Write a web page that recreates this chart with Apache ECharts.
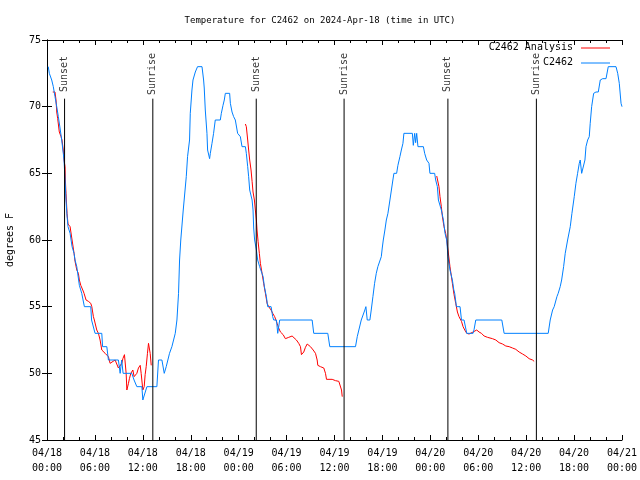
<!DOCTYPE html>
<html>
<head>
<meta charset="utf-8">
<script src="https://cdn.jsdelivr.net/npm/echarts@6/dist/echarts.min.js"></script>
<style>html,body{margin:0;padding:0;background:#fff}#c{width:640px;height:480px}</style>
</head>
<body>
<div id="c"></div>
<script>
// hours since 2024-04-18 00:00 UTC
var tickLabels = ["04/18\n00:00","04/18\n06:00","04/18\n12:00","04/18\n18:00","04/19\n00:00","04/19\n06:00","04/19\n12:00","04/19\n18:00","04/20\n00:00","04/20\n06:00","04/20\n12:00","04/20\n18:00","04/21\n00:00"];

var obsHours = [0.16,0.29,0.46,0.59,0.79,1.0,1.22,1.42,1.63,1.84,2.04,2.13,2.26,2.38,2.51,2.63,2.89,3.14,3.39,3.51,3.73,4.05,4.35,4.68,5.48,5.58,6.02,6.86,6.96,7.49,7.69,8.94,9.16,9.35,9.53,10.62,10.9,11.25,11.88,12.0,12.25,12.51,13.76,13.96,14.39,14.68,14.93,15.34,15.64,16.06,16.27,16.47,16.6,16.75,17.06,17.44,17.6,17.85,17.94,18.15,18.28,18.57,18.85,19.41,19.61,19.69,19.82,20.03,20.11,20.36,20.45,20.66,20.86,21.07,21.7,21.83,22.04,22.2,22.33,22.87,22.96,23.17,23.37,23.58,23.87,24.21,24.42,24.84,24.96,25.13,25.25,25.38,25.68,25.8,25.88,26.0,26.22,26.38,26.63,27.06,27.22,27.47,27.63,28.06,28.26,28.39,28.73,28.89,29.14,33.2,33.4,35.16,35.41,38.63,38.85,39.05,39.35,39.55,39.8,39.93,40.1,40.43,40.6,40.81,41.02,41.23,41.43,41.68,41.86,41.98,42.11,42.31,42.49,42.69,42.94,43.11,43.31,43.44,43.78,43.94,44.19,44.37,44.57,44.69,45.75,45.87,46.04,46.16,46.29,46.45,47.13,47.29,47.54,47.83,47.95,48.54,48.67,48.88,49.01,49.21,49.38,49.64,49.84,50.05,50.21,50.46,50.76,50.93,51.05,51.27,51.72,51.9,52.22,52.56,53.35,53.48,53.69,56.95,57.24,62.76,63.01,63.31,63.51,63.85,64.01,64.26,64.44,64.69,64.89,65.19,65.52,65.73,66.02,66.23,66.44,66.65,66.77,66.95,67.2,67.36,67.49,67.7,67.9,68.02,68.2,68.45,68.74,69.03,69.28,69.58,70.0,70.28,71.25,71.46,71.66,71.88,72.0];
var obsTemps = [73,72.5,72.4,72,71.5,70.75,70,69.25,68.4,67.5,66.5,66,64.5,63,61.8,61,60.5,59.5,59,58.5,58,56.6,56,55,55,54,53,53,52,52,51,51,50,51,50,50,49.5,49,49,48,48,49,49,51,51,50,50.5,51.5,52,53,54,56,58.5,60,62.25,64.75,66.25,67.5,69.5,71.25,72,72.6,73,73,72,71.4,69.75,68,66.75,66.1,66.5,67.25,68,69,69,69.5,70.1,70.5,71,71,70.25,69.6,69.25,69,68,67.75,67,67,66.5,65.5,64.75,63.75,63,62.25,60.9,60,59.25,58.5,58,57.25,56.5,55.75,55,55,54.25,54,54,53,54,54,53,53,52,52,52.75,53.25,54,54,54.75,55,54,54,54.75,55.75,56.75,57.5,58,58.1,58.75,59.4,60,60.75,61.5,62,63,63,64.5,65,65,65.6,66.25,66.75,67.25,68,68,67.1,68,67.3,68,67,67,66.5,66,65.75,65,65,64.5,64,63,63,62.25,61.5,60.5,60,58.75,57.75,57,56.3,56,55,55,54,54,53,53,53.3,54,54,53,53,54,54.75,55,55.75,56,56.5,57,58,59,60,61,62,63.25,64.25,65,65.75,66,65,65,66,67,67.5,67.75,68.75,70,71,71.1,71.1,72,72.1,72.1,73,73,72.5,71.75,70.25,70];

var anaHours1 = [0.72,1.0,1.13,1.22,1.34,1.54,1.76,1.88,2.04,2.13,2.26,2.3,2.38,2.51,2.63,2.89,3.14,3.39,3.51,3.73,3.93,4.05,4.23,4.48,4.64,4.89,5.18,5.48,5.61,5.81,5.93,6.23,6.44,6.65,6.86,7.28,7.49,7.69,7.9,8.12,8.53,8.72,8.94,9.16,9.37,9.5,9.7,9.91,10.0,10.2,10.32,10.5,10.75,10.91,11.25,11.45,11.67,11.79,12.0,12.17,12.29,12.42,12.58,12.71,12.92,13.05];
var anaTemps1 = [71.1,71.1,70.5,69.6,69.1,68.1,67.75,67.5,66.75,66,65.5,64.5,63.5,62,61.2,61,60,59,58.4,57.75,57.5,57,56.6,56.25,56,55.5,55.4,55.25,55,54.25,54,53.25,53,52.5,51.75,51.5,51.4,51.25,50.75,50.75,51,51,50.4,50.25,50.75,51.1,51.4,50,48.75,49.25,49.6,50,50.25,49.75,50,50.4,50.6,50,48.75,49,49.9,50.5,51.5,52.25,51.5,50.6];
var anaHours2 = [24.84,24.96,25.13,25.25,25.38,25.55,25.68,25.8,25.97,26.09,26.22,26.3,26.43,26.59,26.72,26.93,27.13,27.35,27.56,27.76,28.06,28.26,28.51,28.81,29.01,29.23,29.57,29.85,30.27,30.69,30.9,31.23,31.52,31.74,31.86,31.95,32.15,32.36,32.58,32.78,32.99,33.33,33.62,33.83,33.91,34.24,34.66,34.87,35.0,35.71,36.13,36.54,36.75,36.88,36.97];
var anaTemps2 = [68.7,68.5,67.5,66.75,66,65.25,64.4,63.6,63,62.25,61.5,60.75,59.9,59,58.25,57.5,56.75,56,55.25,55,54.75,54.5,54.25,53.75,53.4,53.1,52.9,52.6,52.7,52.8,52.75,52.5,52.25,52,51.4,51.25,51.6,51.95,52.2,52.2,52,51.75,51.5,51,50.6,50.5,50.4,50,49.55,49.55,49.45,49.4,49.3,48.75,48.25];
var anaHours3 = [48.8,48.98,49.08,49.21,49.38,49.51,49.71,49.92,50.05,50.21,50.46,50.76,50.97,51.18,51.39,51.59,51.9,52.1,52.31,52.56,52.85,53.06,53.35,53.6,53.81,54.1,54.4,54.73,55.16,55.78,56.2,56.61,57.04,57.45,57.87,58.29,58.7,59.12,59.55,59.96,60.37,60.8,61.0];
var anaTemps3 = [64.8,64.7,64,63.25,62.5,61.75,61,60.5,60,59.25,58,56.75,55.9,55.25,54.6,54.25,53.9,53.5,53.25,53,52.95,53,53.1,53.25,53.25,53.1,53,52.8,52.7,52.6,52.5,52.3,52.2,52.05,52,51.9,51.8,51.6,51.45,51.3,51.1,51,50.9];

var sunNames = ["Sunset","Sunrise","Sunset","Sunrise","Sunset","Sunrise"];
var sunHours = [2.2,13.25,26.2,37.2,50.2,61.28];

var yMin = 45, yMax = 75, yStep = 5;
var xMin = 0, xMax = 72, xStep = 6;

function pairs(h, t) { return h.map(function (v, i) { return [v, t[i]]; }); }
var anaData = pairs(anaHours1, anaTemps1).concat([null], pairs(anaHours2, anaTemps2), [null], pairs(anaHours3, anaTemps3));
var obsData = pairs(obsHours, obsTemps);
var sunLineTop = 70.6, sunLabelY = 72.45;
var sunLineData = [];
sunHours.forEach(function (h) { sunLineData.push([h, sunLineTop], [h, yMin], null); });
var sunLabelData = sunHours.map(function (h, i) { return { value: [h, sunLabelY], name: sunNames[i] }; });

var FONT = "DejaVu Sans Mono";
var chart = echarts.init(document.getElementById('c'), null, { renderer: 'canvas' });
var axisCommon = {
  axisLine: { lineStyle: { color: '#000', width: 1 } },
  splitLine: { show: false }
};
chart.setOption({
  animation: false,
  backgroundColor: '#fff',
  title: {
    text: 'Temperature for C2462 on 2024-Apr-18 (time in UTC)',
    left: 'center', top: 11,
    textStyle: { fontFamily: FONT, fontSize: 9, fontWeight: 'normal', color: '#000' }
  },
  grid: { left: 47, top: 40, width: 575, height: 400, containLabel: false, outerBoundsMode: 'none' },
  xAxis: [
    Object.assign({}, axisCommon, {
      type: 'value', min: xMin, max: xMax, interval: xStep, position: 'bottom',
      axisTick: { inside: true, length: 5, lineStyle: { color: '#000' } },
      minorTick: { show: true, splitNumber: 3, length: 3, lineStyle: { color: '#000' } },
      axisLabel: {
        fontFamily: FONT, fontSize: 10, color: '#000', lineHeight: 15, margin: 6,
        formatter: function (v) { return tickLabels[Math.round(v / xStep)] || ''; }
      }
    }),
    Object.assign({}, axisCommon, {
      type: 'value', min: xMin, max: xMax, interval: xStep, position: 'top',
      axisTick: { inside: true, length: 5, lineStyle: { color: '#000' } },
      minorTick: { show: true, splitNumber: 3, length: 3, lineStyle: { color: '#000' } },
      axisLabel: { show: false }
    })
  ],
  yAxis: [
    Object.assign({}, axisCommon, {
      type: 'value', min: yMin, max: yMax, interval: yStep, position: 'left',
      name: 'degrees F', nameLocation: 'middle', nameGap: 32, nameRotate: 90,
      nameTextStyle: { fontFamily: FONT, fontSize: 10, color: '#000' },
      axisTick: { inside: true, length: 5, lineStyle: { color: '#000' } },
      axisLabel: { fontFamily: FONT, fontSize: 10, color: '#000', margin: 6 }
    }),
    Object.assign({}, axisCommon, {
      type: 'value', min: yMin, max: yMax, interval: yStep, position: 'right',
      axisTick: { inside: true, length: 5, lineStyle: { color: '#000' } },
      axisLabel: { show: false }
    })
  ],
  series: [
    { name: 'C2462 Analysis', type: 'line', data: anaData, showSymbol: false, symbol: 'none',
      connectNulls: false, lineStyle: { color: '#ff0000', width: 1 }, itemStyle: { color: '#ff0000' } },
    { name: 'C2462', type: 'line', data: obsData, showSymbol: false, symbol: 'none',
      lineStyle: { color: '#0080ff', width: 1 }, itemStyle: { color: '#0080ff' } },
    { name: 'sun', type: 'line', data: sunLineData, showSymbol: false, symbol: 'none',
      connectNulls: false, lineStyle: { color: '#000', width: 1 } },
    { name: 'sunLabels', type: 'scatter', data: sunLabelData, symbolSize: 0,
      label: { show: true, position: 'inside', rotate: 90, formatter: '{b}',
        fontFamily: FONT, fontSize: 10, color: '#000' } }
  ],
  graphic: [
    { type: 'text', right: 67, top: 42,
      style: { text: 'C2462 Analysis', font: '10px "DejaVu Sans Mono"', fill: '#000' } },
    { type: 'line', shape: { x1: 581, y1: 48, x2: 610, y2: 48 }, style: { stroke: '#ff0000', lineWidth: 1 } },
    { type: 'text', right: 67, top: 57,
      style: { text: 'C2462', font: '10px "DejaVu Sans Mono"', fill: '#000' } },
    { type: 'line', shape: { x1: 581, y1: 63, x2: 610, y2: 63 }, style: { stroke: '#0080ff', lineWidth: 1 } }
  ]
});
</script>
</body>
</html>
